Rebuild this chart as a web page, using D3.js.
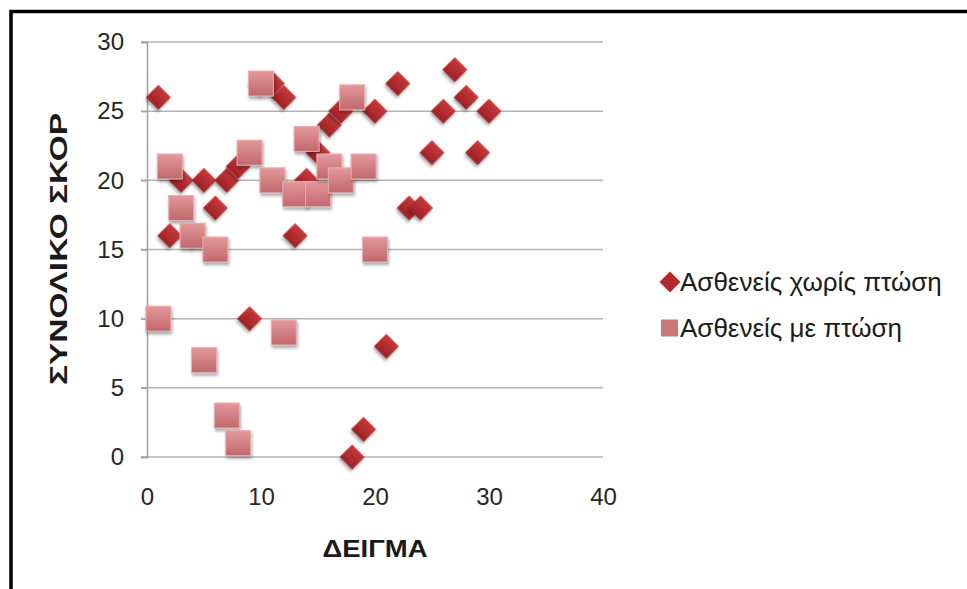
<!DOCTYPE html>
<html>
<head>
<meta charset="utf-8">
<script src="https://cdn.jsdelivr.net/npm/d3@7"></script>
<style>
  html, body { margin: 0; padding: 0; background: #fff; }
  svg { display: block; }
</style>
</head>
<body>
<svg id="chart" width="967" height="589"></svg>
<script>
// ---- data ----
const seriesNames = ["Ασθενείς χωρίς πτώση", "Ασθενείς με πτώση"];
const noFallX = [1, 2, 3, 4, 5, 6, 7, 8, 9, 10, 11, 12, 13, 14, 15, 16, 17, 18, 19, 20, 21, 22, 23, 24, 25, 26, 27, 28, 29, 30];
const noFallY = [26, 16, 20, 16, 20, 18, 20, 21, 10, 27, 27, 26, 16, 20, 22, 24, 25, 0, 2, 25, 8, 27, 18, 18, 22, 25, 28, 26, 22, 25];
const fallX = [1, 2, 3, 4, 5, 6, 7, 8, 9, 10, 11, 12, 13, 14, 15, 16, 17, 18, 19, 20];
const fallY = [10, 21, 18, 16, 7, 15, 3, 1, 22, 27, 20, 9, 19, 23, 19, 21, 20, 26, 21, 15];
const xTicks = [0, 10, 20, 30, 40];
const yTicks = [0, 5, 10, 15, 20, 25, 30];
const xTitle = "ΔΕΙΓΜΑ";
const yTitle = "ΣΥΝΟΛΙΚΟ ΣΚΟΡ";

const svg = d3.select("#chart");
const font = "Arial, 'Liberation Sans', sans-serif";

// defs: gradients + shadow
const defs = svg.append("defs");
const gD = defs.append("linearGradient").attr("id", "gDiamond").attr("x1", 0).attr("y1", 0).attr("x2", 0).attr("y2", 1);
gD.append("stop").attr("offset", "0%").attr("stop-color", "#c53a3c");
gD.append("stop").attr("offset", "100%").attr("stop-color", "#a01f24");
const gS = defs.append("linearGradient").attr("id", "gSquare").attr("x1", 0).attr("y1", 0).attr("x2", 0).attr("y2", 1);
gS.append("stop").attr("offset", "0%").attr("stop-color", "#e2999b");
gS.append("stop").attr("offset", "100%").attr("stop-color", "#c1676b");
const f = defs.append("filter").attr("id", "shadow").attr("x", "-50%").attr("y", "-50%").attr("width", "200%").attr("height", "200%");
f.append("feDropShadow").attr("dx", 1).attr("dy", 2.5).attr("stdDeviation", 1.8).attr("flood-color", "#000").attr("flood-opacity", 0.35);

// frame
svg.append("rect").attr("x", 11).attr("y", 11.5).attr("width", 1000).attr("height", 700)
  .attr("fill", "none").attr("stroke", "#000").attr("stroke-width", 3.5);

// scales
const x = d3.scaleLinear().domain([0, 40]).range([147, 603]);
const y = d3.scaleLinear().domain([0, 30]).range([457, 42]);

// gridlines
svg.append("g").selectAll("line").data(yTicks).join("line")
  .attr("x1", 141).attr("x2", 603)
  .attr("y1", d => y(d)).attr("y2", d => y(d))
  .attr("stroke", "#b4b4b4").attr("stroke-width", 1.5);

// y axis
const yAxis = svg.append("g").attr("transform", `translate(${x(0)},0)`)
  .call(d3.axisLeft(y).tickValues(yTicks).tickSize(6).tickPadding(17));
yAxis.select(".domain").attr("stroke", "#a0a0a0").attr("stroke-width", 1.5);
yAxis.selectAll(".tick line").attr("stroke", "#a0a0a0").attr("stroke-width", 1.5);
yAxis.selectAll("text").attr("font-family", font).attr("font-size", 24).attr("fill", "#262626");

// x axis
const xAxis = svg.append("g").attr("transform", `translate(0,${y(0)})`)
  .call(d3.axisBottom(x).tickValues(xTicks).tickSize(0).tickPadding(31));
xAxis.select(".domain").remove();
xAxis.selectAll("text").attr("font-family", font).attr("font-size", 24).attr("fill", "#262626");

// axis titles
svg.append("text").attr("x", 375).attr("y", 557).attr("text-anchor", "middle")
  .attr("font-family", font).attr("font-weight", "bold").attr("font-size", 24).attr("fill", "#1a1a1a")
  .attr("textLength", 105).attr("lengthAdjust", "spacingAndGlyphs")
  .text(xTitle);
svg.append("text").attr("transform", "translate(67,249) rotate(-90)").attr("text-anchor", "middle")
  .attr("font-family", font).attr("font-weight", "bold").attr("font-size", 24).attr("fill", "#1a1a1a")
  .attr("textLength", 272).attr("lengthAdjust", "spacingAndGlyphs")
  .text(yTitle);

// markers
const diamondPath = d3.symbol().type(d3.symbolSquare).size(310)();
const noFall = noFallX.map((v, i) => ({ x: v, y: noFallY[i] }));
const fall = fallX.map((v, i) => ({ x: v, y: fallY[i] }));

svg.append("g").selectAll("path").data(noFall).join("path")
  .attr("d", diamondPath)
  .attr("transform", d => `translate(${x(d.x)},${y(d.y)}) rotate(45)`)
  .attr("fill", "url(#gDiamond)")
  .attr("filter", "url(#shadow)");

const sq = 25;
svg.append("g").selectAll("rect").data(fall).join("rect")
  .attr("x", d => x(d.x) - sq / 2).attr("y", d => y(d.y) - sq / 2)
  .attr("width", sq).attr("height", sq)
  .attr("fill", "url(#gSquare)")
  .attr("stroke", "#e8b0b2").attr("stroke-width", 1)
  .attr("filter", "url(#shadow)");

// legend
const leg = svg.append("g");
const legY = [282, 328];
leg.append("path").attr("d", d3.symbol().type(d3.symbolSquare).size(220)())
  .attr("transform", `translate(670,${legY[0]}) rotate(45)`).attr("fill", "#b3282d");
leg.append("rect").attr("x", 661).attr("y", legY[1] - 8.5).attr("width", 17).attr("height", 17)
  .attr("fill", "#cd7679");
seriesNames.forEach((name, i) => {
  leg.append("text").attr("x", 680).attr("y", legY[i] + 8.5)
    .attr("font-family", font).attr("font-size", 26).attr("fill", "#1a1a1a")
    .text(name);
});
</script>
</body>
</html>
